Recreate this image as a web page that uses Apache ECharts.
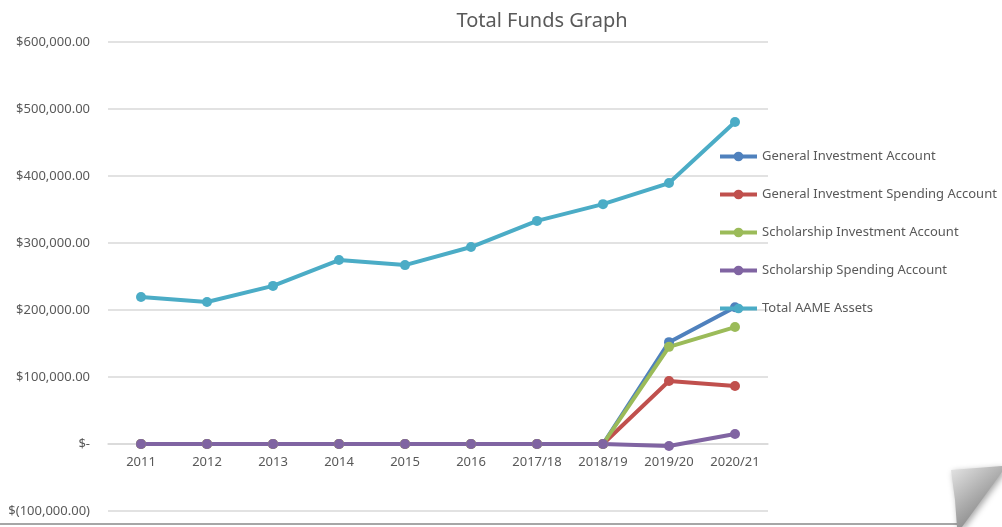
<!DOCTYPE html>
<html>
<head>
<meta charset="utf-8">
<title>Total Funds Graph</title>
<script src="https://cdn.jsdelivr.net/npm/echarts@6/dist/echarts.min.js"></script>
<style>
  html, body { margin: 0; padding: 0; background: #fff; }
  #chart { width: 1002px; height: 527px; }
</style>
</head>
<body>
<div id="chart"></div>
<script>
const years = ['2011', '2012', '2013', '2014', '2015', '2016', '2017/18', '2018/19', '2019/20', '2020/21'];

const generalInvestment = [0, 0, 0, 0, 0, 0, 0, 0, 152000, 204000];
const generalSpending = [0, 0, 0, 0, 0, 0, 0, 0, 94000, 86500];
const scholarshipInvestment = [0, 0, 0, 0, 0, 0, 0, 0, 145000, 174500];
const scholarshipSpending = [0, 0, 0, 0, 0, 0, 0, 0, -3000, 15000];
const totalAssets = [219500, 212000, 236000, 274500, 267000, 294000, 333000, 358000, 389500, 480500];

const seriesNames = [
    'General Investment Account',
    'General Investment Spending Account',
    'Scholarship Investment Account',
    'Scholarship Spending Account',
    'Total AAME Assets'
];
const colors = ['#4F81BD', '#C0504D', '#9BBB59', '#8064A2', '#4BACC6'];

const textColor = '#595959';
const font = 'Noto Sans, sans-serif';

// excel style accounting labels
const money = v => {
    if (v === 0) return '$-';
    const s = Math.abs(v).toLocaleString('en-US', {minimumFractionDigits: 2, maximumFractionDigits: 2});
    return v < 0 ? '$(' + s + ')' : '$' + s;
};

const makeLine = (name, data, color) => ({
    name: name,
    type: 'line',
    data: data,
    symbol: 'circle',
    symbolSize: 10,
    lineStyle: {width: 4, color: color},
    itemStyle: {color: color},
    emphasis: {disabled: true}
});

// grid: 42 -> 511, seven bands of 67px, zero sits one band above the bottom
const gridTop = 42;
const gridBottom = 16;
const zeroShift = (527 - gridTop - gridBottom) / 7;

const chart = echarts.init(document.getElementById('chart'));
chart.setOption({
    animation: false,
    textStyle: {fontFamily: font},
    title: {
        text: 'Total Funds Graph',
        left: 537,
        textAlign: 'center',
        top: 6,
        textStyle: {color: textColor, fontSize: 20, fontWeight: 'normal', fontFamily: font}
    },
    legend: {
        orient: 'vertical',
        left: 713,
        top: 145,
        itemWidth: 37,
        itemHeight: 12,
        itemGap: 25,
        data: seriesNames,
        lineStyle: {width: 4},
        textStyle: {color: textColor, fontSize: 13, fontFamily: font}
    },
    grid: {left: 108, right: 234, top: gridTop, bottom: gridBottom, containLabel: false, outerBoundsMode: 'none'},
    xAxis: {
        type: 'category',
        data: years,
        boundaryGap: true,
        position: 'bottom',
        offset: -zeroShift,
        axisLine: {onZero: false, lineStyle: {color: '#d9d9d9', width: 1.5}},
        axisTick: {show: false},
        axisLabel: {color: textColor, fontSize: 13, margin: 12, fontFamily: font}
    },
    yAxis: {
        type: 'value',
        min: -100000,
        max: 600000,
        interval: 100000,
        axisLine: {show: false},
        axisTick: {show: false},
        splitLine: {lineStyle: {color: '#d9d9d9', width: 1.5}},
        axisLabel: {color: textColor, fontSize: 13, margin: 18, formatter: money, fontFamily: font}
    },
    series: [
        makeLine(seriesNames[0], generalInvestment, colors[0]),
        makeLine(seriesNames[1], generalSpending, colors[1]),
        makeLine(seriesNames[2], scholarshipInvestment, colors[2]),
        makeLine(seriesNames[3], scholarshipSpending, colors[3]),
        makeLine(seriesNames[4], totalAssets, colors[4])
    ],
    graphic: [
        {
            type: 'line',
            shape: {x1: 0, y1: 524, x2: 958, y2: 524},
            style: {stroke: '#a6a6a6', lineWidth: 2}
        },
        {
            type: 'polygon',
            shape: {points: [[951, 470], [1002, 466], [1002, 472], [962, 527], [957, 527], [955, 500]]},
            style: {
                fill: new echarts.graphic.LinearGradient(0, 0, 1, 1, [
                    {offset: 0, color: '#e6e6e6'},
                    {offset: 0.5, color: '#a9a9a9'},
                    {offset: 1, color: '#6e6e6e'}
                ]),
                shadowBlur: 6,
                shadowColor: 'rgba(0,0,0,0.35)',
                shadowOffsetX: 2,
                shadowOffsetY: 2
            }
        }
    ]
});

window.addEventListener('resize', () => chart.resize());
</script>
</body>
</html>
